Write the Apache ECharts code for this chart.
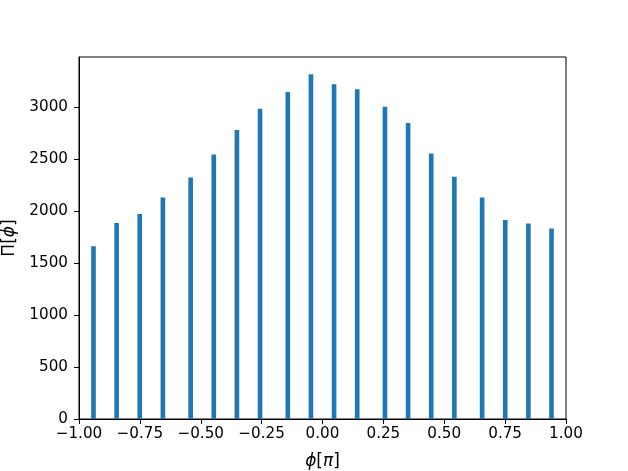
<!DOCTYPE html>
<html>
<head>
<meta charset="utf-8">
<script src="https://cdn.jsdelivr.net/npm/echarts@6/dist/echarts.min.js"></script>
<style>html,body{margin:0;padding:0;background:#fff;}#c{width:628px;height:471px;}</style>
</head>
<body>
<div id="c"></div>
<script>
// Histogram bin centers (phi in units of pi) and counts
const binCenters = [-0.9405, -0.8455, -0.7505, -0.6555, -0.5415, -0.4465, -0.3515, -0.2565, -0.1425, -0.0475,
                    0.0475, 0.1425, 0.2565, 0.3515, 0.4465, 0.5415, 0.6555, 0.7505, 0.8455, 0.9405];
const counts = [1661, 1884, 1971, 2131, 2322, 2543, 2780, 2984, 3144, 3316,
                3220, 3172, 3003, 2847, 2552, 2329, 2131, 1913, 1879, 1831];
const yTicks = [0, 500, 1000, 1500, 2000, 2500, 3000];
const BIN_WIDTH = 0.019;

const data = binCenters.map((x, i) => [x, counts[i]]);
const FONT = 'DejaVu Sans';
const TICK_FS = 15.2;
const NAME_FS = 17;
const chart = echarts.init(document.getElementById('c'), null, {renderer: 'canvas'});
chart.setOption({
  animation: false,
  backgroundColor: '#fff',
  grid: {left: 79, right: 62, top: 57, bottom: 52, containLabel: false, outerBoundsMode: 'none',
         show: true, borderColor: '#000', borderWidth: 1, backgroundColor: 'transparent'},
  xAxis: {
    type: 'value', min: -1, max: 1, interval: 0.25,
    splitLine: {show: false},
    axisLine: {show: true, onZero: false, lineStyle: {color: '#000', width: 1}},
    axisTick: {show: true, inside: false, length: 5, lineStyle: {color: '#000', width: 1}},
    axisLabel: {fontFamily: FONT, fontSize: TICK_FS, color: '#000', margin: 8,
                formatter: v => v.toFixed(2).replace('-', '\u2212')},
    name: '{i|ϕ}[{i|π}]', nameLocation: 'middle', nameGap: 34,
    nameTextStyle: {fontFamily: FONT, fontSize: NAME_FS, color: '#000',
      rich: {i: {fontFamily: FONT, fontSize: NAME_FS, fontStyle: 'italic', color: '#000'}}}
  },
  yAxis: {
    type: 'value', min: 0, max: 3481,
    splitLine: {show: false},
    axisLine: {show: true, onZero: false, lineStyle: {color: '#000', width: 1}},
    axisTick: {show: true, inside: false, length: 5, customValues: yTicks, lineStyle: {color: '#000', width: 1}},
    axisLabel: {fontFamily: FONT, fontSize: TICK_FS, color: '#000', margin: 11, customValues: yTicks,
                formatter: v => String(v)},
    name: 'Π[{i|ϕ}]', nameLocation: 'middle', nameGap: 53,
    nameTextStyle: {fontFamily: FONT, fontSize: NAME_FS, color: '#000',
      rich: {i: {fontFamily: FONT, fontSize: NAME_FS, fontStyle: 'italic', color: '#000'}}}
  },
  series: [{
    type: 'custom',
    data: data,
    encode: {x: 0, y: 1},
    renderItem: function (params, api) {
      const x = api.value(0), y = api.value(1);
      const p0 = api.coord([x - BIN_WIDTH / 2, y]);
      const p1 = api.coord([x + BIN_WIDTH / 2, 0]);
      return {type: 'rect',
        shape: {x: p0[0], y: p0[1], width: p1[0] - p0[0], height: p1[1] - p0[1]},
        style: {fill: '#1f77b4'}};
    }
  }]
});
</script>
</body>
</html>
